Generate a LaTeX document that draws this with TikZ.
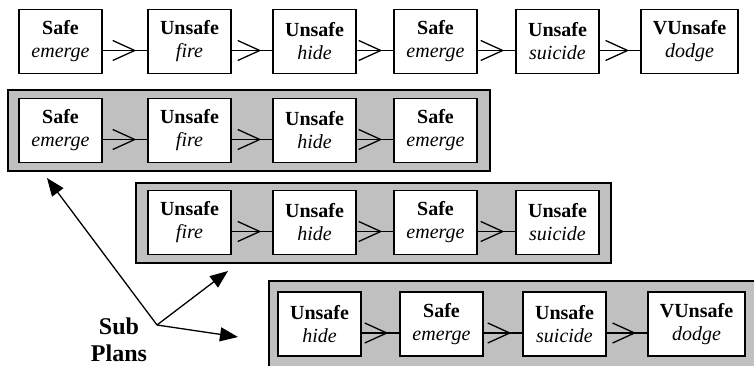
\documentclass[tikz,border=0pt]{standalone}
\usepackage{fontspec}
\setmainfont{Liberation Serif}
\usetikzlibrary{arrows.meta,decorations.markings}
\newcommand{\pstep}[2]{\textbf{#1}\\\textit{#2}}
\definecolor{plangray}{RGB}{192,192,192}

\begin{document}
\begin{tikzpicture}[x=1pt,y=-1pt,
  state/.style={draw, line width=1.4pt, fill=white, minimum width=83pt, minimum height=64pt,
                inner xsep=12pt, align=center, font=\fontsize{20}{23}\selectfont},
  plan/.style={draw, line width=1.5pt, fill=plangray},
  seq/.style={line width=1.5pt, postaction={decorate},
              decoration={markings, mark=at position -11pt with {\arrow{Straight Barb[length=22pt,width=20pt,line width=1.3pt]}}}},
  pointer/.style={line width=1.3pt, -{Triangle[length=18pt,width=14pt]}}]

\clip (0,0) rectangle (754,366);

% the whole plan
\node [state] (r1a) at (60.5,41.5)  {\pstep{Safe}{emerge}};
\node [state] (r1b) at (189.5,41.5) {\pstep{Unsafe}{fire}};
\node [state] (r1c) at (314.5,41.5) {\pstep{Unsafe}{hide}};
\node [state] (r1d) at (435.5,41.5) {\pstep{Safe}{emerge}};
\node [state] (r1e) at (557.5,41.5) {\pstep{Unsafe}{suicide}};
\node [state] (r1f) at (689.5,41.5) {\pstep{VUnsafe}{dodge}};

\draw [seq] ([yshift=-9pt]r1a.east)--([yshift=-9pt]r1b.west);
\draw [seq] ([yshift=-9pt]r1b.east)--([yshift=-9pt]r1c.west);
\draw [seq] ([yshift=-9pt]r1c.east)--([yshift=-9pt]r1d.west);
\draw [seq] ([yshift=-9pt]r1d.east)--([yshift=-9pt]r1e.west);
\draw [seq] ([yshift=-9pt]r1e.east)--([yshift=-9pt]r1f.west);

% sub plan 1
\draw [plan] (8,90) rectangle (490,171);
\node [state] (s1a) at (60.5,130.5)  {\pstep{Safe}{emerge}};
\node [state] (s1b) at (189.5,130.5) {\pstep{Unsafe}{fire}};
\node [state] (s1c) at (314.5,130.5) {\pstep{Unsafe}{hide}};
\node [state] (s1d) at (435.5,130.5) {\pstep{Safe}{emerge}};

\draw [seq] ([yshift=-9pt]s1a.east)--([yshift=-9pt]s1b.west);
\draw [seq] ([yshift=-9pt]s1b.east)--([yshift=-9pt]s1c.west);
\draw [seq] ([yshift=-9pt]s1c.east)--([yshift=-9pt]s1d.west);

% sub plan 2
\draw [plan] (136,183) rectangle (611,263);
\node [state] (s2a) at (189.5,222.5) {\pstep{Unsafe}{fire}};
\node [state] (s2b) at (314.5,222.5) {\pstep{Unsafe}{hide}};
\node [state] (s2c) at (435.5,222.5) {\pstep{Safe}{emerge}};
\node [state] (s2d) at (557.5,222.5) {\pstep{Unsafe}{suicide}};

\draw [seq] ([yshift=-9pt]s2a.east)--([yshift=-9pt]s2b.west);
\draw [seq] ([yshift=-9pt]s2b.east)--([yshift=-9pt]s2c.west);
\draw [seq] ([yshift=-9pt]s2c.east)--([yshift=-9pt]s2d.west);

% sub plan 3, runs off the page
\draw [plan] (269,281) rectangle (780,390);
\node [state] (s3a) at (319.5,324) {\pstep{Unsafe}{hide}};
\node [state] (s3b) at (441.5,324) {\pstep{Safe}{emerge}};
\node [state] (s3c) at (564.5,324) {\pstep{Unsafe}{suicide}};
\node [state] (s3d) at (696.5,324) {\pstep{VUnsafe}{dodge}};

\draw [seq] ([yshift=-9pt]s3a.east)--([yshift=-9pt]s3b.west);
\draw [seq] ([yshift=-9pt]s3b.east)--([yshift=-9pt]s3c.west);
\draw [seq] ([yshift=-9pt]s3c.east)--([yshift=-9pt]s3d.west);

% label and pointers
\node [font=\fontsize{24}{27}\selectfont\bfseries, align=center] (sub) at (119,340) {Sub\\Plans};
\coordinate (hub) at (157,325);
\coordinate (tip1) at (47,178);
\coordinate (tip2) at (228,271);
\coordinate (tip3) at (238,337);

\draw [pointer] (hub)--(tip1);
\draw [pointer] (hub)--(tip2);
\draw [pointer] (hub)--(tip3);

\end{tikzpicture}
\end{document}
